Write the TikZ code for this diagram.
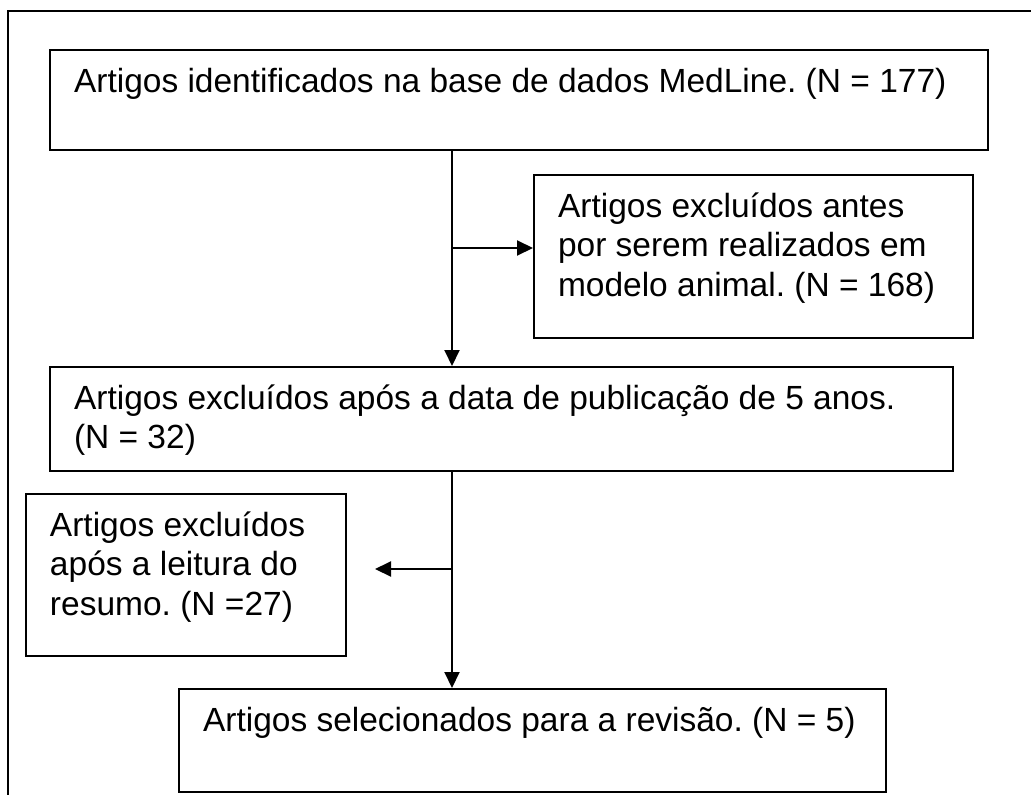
\documentclass[tikz,border=0pt]{standalone}
\usepackage{fontspec}
\setmainfont{Liberation Sans}
\usepackage{tikz}
\usetikzlibrary{arrows.meta,positioning}
\frenchspacing

\newcommand{\flowtext}[3]{\begin{minipage}[t][#2][t]{#1}\raggedright\leftskip=24pt\rule{0pt}{42pt}#3\end{minipage}}

\begin{document}
\begin{tikzpicture}[
    x=1pt, y=-1pt,
    font=\fontsize{33.5}{39.5}\selectfont,
    flowbox/.style={draw, line width=2pt, inner sep=0pt, anchor=north west},
    arrow/.style={-{Triangle[length=16pt,width=15pt]}, line width=2pt}
]
    \useasboundingbox (0,0) rectangle (1031,795);
    \begin{scope}
        \clip (0,0) rectangle (1031,795);
        \draw[line width=2pt] (8,11) rectangle (1100,900);
    \end{scope}

    \node[flowbox] (ident) at (49,49) {\flowtext{938pt}{100pt}{Artigos identificados na base de dados MedLine. (N = 177)}};
    \node[flowbox] (animal) at (533,174) {\flowtext{439pt}{163pt}{Artigos excluídos antes\\por serem realizados em\\modelo animal. (N = 168)}};
    \node[flowbox] (data) at (49,366) {\flowtext{903pt}{104pt}{Artigos excluídos após a data de publicação de 5 anos.\\(N = 32)}};
    \node[flowbox] (resumo) at (25,493) {\flowtext{320pt}{162pt}{Artigos excluídos\\após a leitura do\\resumo. (N =27)}};
    \node[flowbox] (selec) at (178,688) {\flowtext{707pt}{103pt}{Artigos selecionados para a revisão. (N = 5)}};

    \coordinate (split1) at (452,248);
    \coordinate (split2) at (452,569);

    \draw[arrow] (ident.south -| split1) -- (data.north -| split1);
    \draw[arrow] (split1) -- (split1 -| animal.west);
    \draw[arrow] (data.south -| split2) -- (selec.north -| split2);
    \draw[arrow, shorten >=28pt] (split2) -- (split2 -| resumo.east);
\end{tikzpicture}
\end{document}
